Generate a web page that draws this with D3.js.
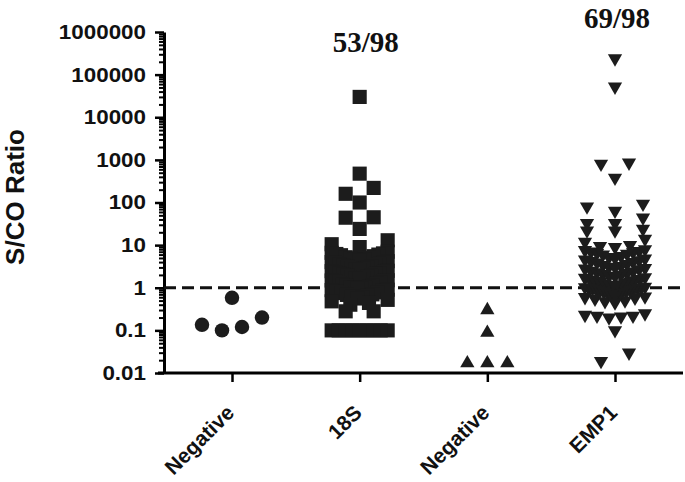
<!DOCTYPE html>
<html>
<head>
  <meta charset="utf-8">
  <title>S/CO ratio</title>
  <script src="https://cdn.jsdelivr.net/npm/d3@7"></script>
  <style>
    body { margin: 0; background: #fff; }
    text { font-family: "Liberation Sans", Arial, sans-serif; font-weight: bold; }
  </style>
</head>
<body>
<script>
// categories on the x axis
const categories = ["Negative", "18S", "Negative", "EMP1"];
const groupKeys = ["neg1", "s18", "neg2", "emp1"];

// S/CO ratios
const neg1Values = [0.58, 0.2, 0.135, 0.12, 0.1];
const s18Values = [
  30000, 475, 220, 160, 100, 45, 44, 24,
  13, 10.5, 9,
  7, 6.6, 6.4, 6.2, 6.0, 5.8, 5.5, 5.2, 5.0, 4.9, 4.7, 4.6, 4.4,
  4.2, 4, 3.9, 3.8, 3.6, 3.5, 3.4, 3.3, 3.2, 3.1, 3.0, 2.9, 2.8, 2.7, 2.6,
  2.5, 2.45, 2.4, 2.3, 2.2, 2.15, 2.1, 2, 1.95, 1.9, 1.8, 1.75, 1.7, 1.65, 1.6,
  1.5, 1.48, 1.45, 1.4, 1.35, 1.3, 1.25, 1.2, 1.15, 1.1, 1.05, 1.0, 1.0, 1.0, 0.98, 0.95,
  0.9, 0.88, 0.85, 0.8, 0.78, 0.75, 0.7, 0.68, 0.65, 0.62, 0.6, 0.56,
  0.52, 0.48, 0.44, 0.4,
  0.28, 0.28,
  0.1, 0.1, 0.1, 0.1, 0.1, 0.1, 0.1, 0.1, 0.1
];
const neg2Values = [0.3, 0.088, 0.017, 0.017, 0.017];
const emp1Values = [
  240000, 52000, 860, 810, 380, 93, 80, 64, 44, 33, 33, 24, 22, 22, 14, 12,
  10, 9.5, 9,
  8, 7.6, 7.2, 7, 6.8, 6.5, 6.2, 6,
  5.5, 5.2, 5, 4.8, 4.6, 4.4, 4.2, 4, 3.9,
  3.6, 3.4, 3.2, 3.1, 3, 2.9, 2.8, 2.7,
  2.5, 2.4, 2.3, 2.2, 2.1, 2, 1.9, 1.85,
  1.75, 1.7, 1.6, 1.55, 1.5, 1.45, 1.4, 1.35, 1.3,
  1.25, 1.2, 1.15, 1.1, 1.05, 1.02, 1.0, 1.0,
  0.98, 0.95, 0.92, 0.9, 0.88, 0.85, 0.82, 0.8, 0.78, 0.75,
  0.7, 0.68, 0.65, 0.62, 0.6, 0.58, 0.55,
  0.5, 0.48, 0.45,
  0.25, 0.23, 0.22, 0.22, 0.21, 0.2,
  0.1, 0.03, 0.019
];

const positiveLabels = ["53/98", "69/98"];
const cutoff = 1;

// y axis ticks
const tickValues = [0.01, 0.1, 1, 10, 100, 1000, 10000, 100000, 1000000];
const tickLabels = ["0.01", "0.1", "1", "10", "100", "1000", "10000", "100000", "1000000"];
const minorSteps = [2, 3, 4, 5, 6, 7, 8, 9];

const width = 685, height = 482;
const svg = d3.select("body").append("svg")
  .attr("width", width)
  .attr("height", height);

const y = d3.scaleLog()
  .domain([0.01, 1000000])
  .range([373, 32]);

const x = d3.scalePoint()
  .domain(groupKeys)
  .range([232, 615]);

const axisLeftX = 164;
const axisRightX = 683;

// row-based scatter layout, like a column dot plot
function layout(values, cx, rowH, maxStep, maxSpan) {
  const pts = values.map(v => ({ v: v, y: y(v) })).sort((a, b) => a.y - b.y);
  const rows = [];
  let cur = null;
  pts.forEach(p => {
    if (!cur || p.y - cur.start >= rowH) {
      cur = { start: p.y, pts: [] };
      rows.push(cur);
    }
    cur.pts.push(p);
  });
  rows.forEach(r => {
    const n = r.pts.length;
    const step = n > 1 ? Math.min(maxStep, maxSpan / (n - 1)) : 0;
    // fill slots from the outside in, right side first
    const order = [];
    let lo = 0, hi = n - 1;
    while (lo <= hi) {
      order.push(hi--);
      if (lo <= hi) order.push(lo++);
    }
    r.pts.forEach((p, i) => {
      p.x = cx + (order[i] - (n - 1) / 2) * step;
    });
  });
  return pts;
}

const groups = [
  { key: "neg1", values: neg1Values, symbol: d3.symbolCircle, size: 165, rot: 0, rowH: 14, maxStep: 20, maxSpan: 200 },
  { key: "s18", values: s18Values, symbol: d3.symbolSquare, size: 200, rot: 0, rowH: 9, maxStep: 28, maxSpan: 56 },
  { key: "neg2", values: neg2Values, symbol: d3.symbolTriangle, size: 88, rot: 0, rowH: 14, maxStep: 20, maxSpan: 200 },
  { key: "emp1", values: emp1Values, symbol: d3.symbolTriangle, size: 88, rot: 180, rowH: 9, maxStep: 28, maxSpan: 60 }
];

// y axis
const labelScale = 1.12;
const yAxis = svg.append("g")
  .attr("transform", "translate(" + axisLeftX + ",0)")
  .call(d3.axisLeft(y).tickValues(tickValues)
    .tickFormat((d, i) => tickLabels[i]).tickSize(9).tickSizeOuter(0).tickPadding(9));
yAxis.select(".domain").attr("stroke-width", 3);
yAxis.selectAll(".tick line").attr("stroke-width", 2.5);
yAxis.selectAll("text")
  .attr("font-size", 20)
  .attr("fill", "#111")
  .attr("x", -18 / labelScale)
  .attr("transform", "scale(" + labelScale + ",1)");

const minorVals = [];
tickValues.slice(0, -1).forEach(t => minorSteps.forEach(m => minorVals.push(t * m)));
const yMinor = svg.append("g")
  .attr("transform", "translate(" + axisLeftX + ",0)")
  .call(d3.axisLeft(y).tickValues(minorVals).tickFormat("").tickSize(5).tickSizeOuter(0));
yMinor.select(".domain").remove();
yMinor.selectAll(".tick line").attr("stroke-width", 2);

// x axis
const xAxis = svg.append("g")
  .attr("transform", "translate(0,373)")
  .call(d3.axisBottom(x).tickFormat((d, i) => categories[i]).tickSize(9).tickSizeOuter(0));
xAxis.select(".domain").remove();
xAxis.append("line")
  .attr("x1", axisLeftX - 6).attr("x2", axisRightX)
  .attr("stroke", "#000").attr("stroke-width", 3);
xAxis.selectAll(".tick line").attr("stroke-width", 2.5);
xAxis.selectAll(".tick text")
  .attr("font-size", 21)
  .attr("fill", "#111")
  .attr("text-anchor", "end")
  .attr("dy", null)
  .attr("y", null)
  .attr("transform", "translate(3,41) rotate(-45)");

// cut-off line
svg.append("line")
  .attr("x1", axisLeftX).attr("x2", axisRightX)
  .attr("y1", y(cutoff)).attr("y2", y(cutoff))
  .attr("stroke", "#111")
  .attr("stroke-width", 3)
  .attr("stroke-dasharray", "12,6");

// points
groups.forEach(g => {
  const pts = layout(g.values, x(g.key), g.rowH, g.maxStep, g.maxSpan);
  const sym = d3.symbol().type(g.symbol).size(g.size);
  svg.append("g").selectAll("path")
    .data(pts)
    .enter()
    .append("path")
    .attr("d", sym)
    .attr("transform", d => "translate(" + d.x + "," + d.y + ") rotate(" + g.rot + ")")
    .attr("fill", "#1c1c1c");
});

// positive counts above the columns
svg.append("text")
  .attr("x", x("s18") + 6).attr("y", 52)
  .attr("text-anchor", "middle")
  .style("font-family", "'Liberation Serif', 'Times New Roman', serif")
  .attr("font-size", 29)
  .attr("fill", "#111")
  .text(positiveLabels[0]);
svg.append("text")
  .attr("x", x("emp1") + 2).attr("y", 28)
  .attr("text-anchor", "middle")
  .style("font-family", "'Liberation Serif', 'Times New Roman', serif")
  .attr("font-size", 29)
  .attr("fill", "#111")
  .text(positiveLabels[1]);

// y axis title
svg.append("text")
  .attr("transform", "translate(24,197) rotate(-90)")
  .attr("text-anchor", "middle")
  .attr("font-size", 26)
  .attr("fill", "#111")
  .text("S/CO Ratio");
</script>
</body>
</html>
